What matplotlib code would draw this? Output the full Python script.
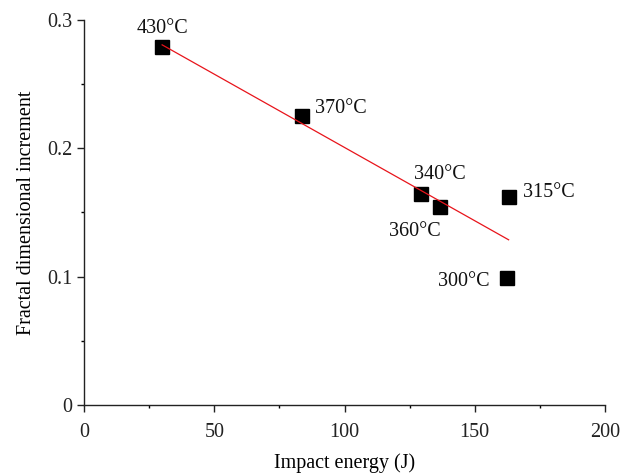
import numpy as np
import matplotlib
matplotlib.use("Agg")
import matplotlib.pyplot as plt
from matplotlib.ticker import MultipleLocator, FixedLocator, FuncFormatter

energy = [30.0, 83.7, 129.4, 136.5, 163.0, 162.4]
increment = [0.279, 0.225, 0.1644, 0.1543, 0.1623, 0.0992]
labels = ["430°C", "370°C", "340°C", "360°C", "315°C", "300°C"]
label_offsets = [(0, 9, "center", "bottom"),
                 (13, 8, "left", "center"),
                 (19, 20, "center", "center"),
                 (-25, -25, "center", "center"),
                 (14, 4, "left", "center"),
                 (-17, -4, "right", "center")]

plt.rcParams["font.family"] = ["Liberation Serif", "DejaVu Serif"]
plt.rcParams["font.size"] = 14

fig = plt.figure(figsize=(6.2, 4.74), dpi=100)
ax = fig.add_axes([84/620, 69/474, 521/620, 385/474])

coef = np.polyfit(energy, increment, 1)
xfit = np.array([min(energy), max(energy)])
ax.plot(xfit, np.polyval(coef, xfit), color="#e8141b", lw=0.9, zorder=3)
ax.plot(energy, increment, "s", color="black", markersize=10, zorder=2)

for x, y, lab, (dx, dy, ha, va) in zip(energy, increment, labels, label_offsets):
    ax.annotate(lab, (x, y), xytext=(dx, dy), textcoords="offset pixels",
                ha=ha, va=va, fontsize=14.5, color="#111111")

ax.set_xlim(0, 200)
ax.set_ylim(0, 0.3)
ax.xaxis.set_major_locator(MultipleLocator(50))
ax.xaxis.set_minor_locator(MultipleLocator(25))
ax.yaxis.set_major_locator(FixedLocator([0, 0.1, 0.2, 0.3]))
ax.yaxis.set_minor_locator(FixedLocator([0.05, 0.15, 0.25]))
ax.yaxis.set_major_formatter(FuncFormatter(lambda v, p: "0" if abs(v) < 1e-9 else f"{v:.1f}"))
ax.tick_params(which="major", direction="out", length=5, width=1, labelsize=14.5, colors="#222222")
ax.tick_params(which="minor", direction="out", length=2.5, width=1)
ax.tick_params(axis="x", pad=8)
for s in ["top", "right"]:
    ax.spines[s].set_visible(False)
for s in ["left", "bottom"]:
    ax.spines[s].set_linewidth(1)
    ax.spines[s].set_color("#222222")

ax.set_xlabel("Impact energy (J)", fontsize=14.5, labelpad=8)
ax.set_ylabel("Fractal dimensional increment", fontsize=14.5, labelpad=8)

fig.savefig("out.png", dpi=100)
